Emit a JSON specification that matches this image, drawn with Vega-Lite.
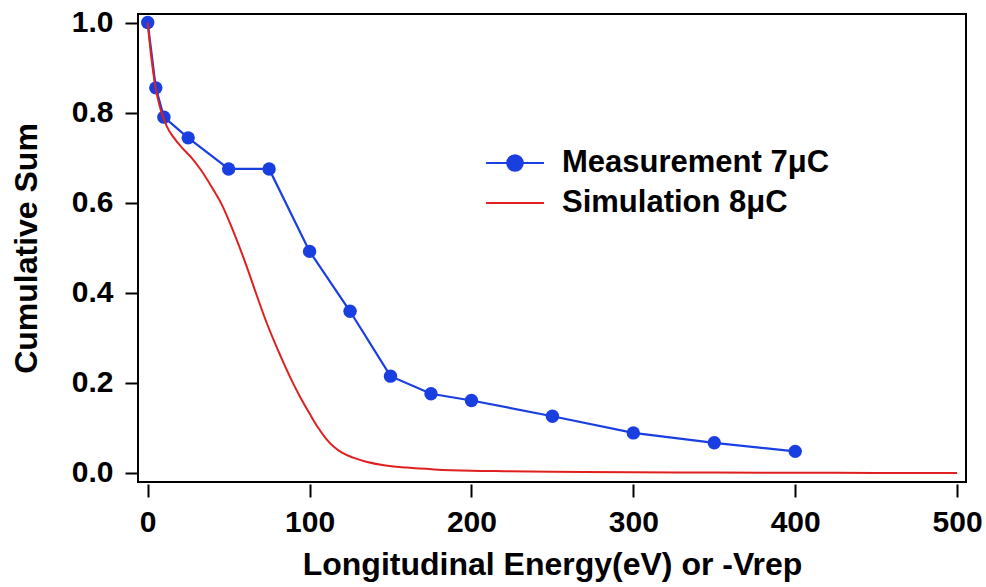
{
  "$schema": "https://vega.github.io/schema/vega-lite/v6.json",
  "width": 828,
  "height": 468,
  "autosize": {"type": "none"},
  "padding": {"left": 138, "top": 14, "right": 20, "bottom": 105},
  "background": "white",
  "config": {
    "font": "Liberation Sans",
    "view": {"stroke": "black", "strokeWidth": 2},
    "axis": {
      "domain": false,
      "grid": false,
      "labelFont": "Liberation Sans",
      "labelFontWeight": "bold",
      "labelFontSize": 30,
      "labelColor": "black",
      "titleFont": "Liberation Sans",
      "titleFontWeight": "bold",
      "titleFontSize": 32,
      "titleColor": "black",
      "tickColor": "black",
      "tickWidth": 2,
      "tickSize": 13
    }
  },
  "datasets": {
    "meas": [
      {"energy": 0, "sum": 1.0, "series": "Measurement 7μC"},
      {"energy": 5, "sum": 0.855, "series": "Measurement 7μC"},
      {"energy": 10, "sum": 0.79, "series": "Measurement 7μC"},
      {"energy": 25, "sum": 0.744, "series": "Measurement 7μC"},
      {"energy": 50, "sum": 0.675, "series": "Measurement 7μC"},
      {"energy": 75, "sum": 0.675, "series": "Measurement 7μC"},
      {"energy": 100, "sum": 0.492, "series": "Measurement 7μC"},
      {"energy": 125, "sum": 0.359, "series": "Measurement 7μC"},
      {"energy": 150, "sum": 0.215, "series": "Measurement 7μC"},
      {"energy": 175, "sum": 0.176, "series": "Measurement 7μC"},
      {"energy": 200, "sum": 0.161, "series": "Measurement 7μC"},
      {"energy": 250, "sum": 0.126, "series": "Measurement 7μC"},
      {"energy": 300, "sum": 0.089, "series": "Measurement 7μC"},
      {"energy": 350, "sum": 0.067, "series": "Measurement 7μC"},
      {"energy": 400, "sum": 0.048, "series": "Measurement 7μC"}
    ],
    "sim": [
      {"energy": 0, "sum": 1.0, "series": "Simulation 8μC"},
      {"energy": 2, "sum": 0.93, "series": "Simulation 8μC"},
      {"energy": 4, "sum": 0.875, "series": "Simulation 8μC"},
      {"energy": 6, "sum": 0.835, "series": "Simulation 8μC"},
      {"energy": 9, "sum": 0.795, "series": "Simulation 8μC"},
      {"energy": 12, "sum": 0.768, "series": "Simulation 8μC"},
      {"energy": 16, "sum": 0.745, "series": "Simulation 8μC"},
      {"energy": 21, "sum": 0.723, "series": "Simulation 8μC"},
      {"energy": 27, "sum": 0.7, "series": "Simulation 8μC"},
      {"energy": 33, "sum": 0.672, "series": "Simulation 8μC"},
      {"energy": 40, "sum": 0.632, "series": "Simulation 8μC"},
      {"energy": 46, "sum": 0.594, "series": "Simulation 8μC"},
      {"energy": 51, "sum": 0.553, "series": "Simulation 8μC"},
      {"energy": 56, "sum": 0.508, "series": "Simulation 8μC"},
      {"energy": 61, "sum": 0.46, "series": "Simulation 8μC"},
      {"energy": 67, "sum": 0.398, "series": "Simulation 8μC"},
      {"energy": 73, "sum": 0.338, "series": "Simulation 8μC"},
      {"energy": 79, "sum": 0.285, "series": "Simulation 8μC"},
      {"energy": 84, "sum": 0.244, "series": "Simulation 8μC"},
      {"energy": 89, "sum": 0.205, "series": "Simulation 8μC"},
      {"energy": 94, "sum": 0.17, "series": "Simulation 8μC"},
      {"energy": 100, "sum": 0.132, "series": "Simulation 8μC"},
      {"energy": 105, "sum": 0.102, "series": "Simulation 8μC"},
      {"energy": 110, "sum": 0.077, "series": "Simulation 8μC"},
      {"energy": 115, "sum": 0.058, "series": "Simulation 8μC"},
      {"energy": 120, "sum": 0.045, "series": "Simulation 8μC"},
      {"energy": 127, "sum": 0.034, "series": "Simulation 8μC"},
      {"energy": 135, "sum": 0.025, "series": "Simulation 8μC"},
      {"energy": 146, "sum": 0.017, "series": "Simulation 8μC"},
      {"energy": 160, "sum": 0.012, "series": "Simulation 8μC"},
      {"energy": 177, "sum": 0.008, "series": "Simulation 8μC"},
      {"energy": 200, "sum": 0.005, "series": "Simulation 8μC"},
      {"energy": 220, "sum": 0.004, "series": "Simulation 8μC"},
      {"energy": 250, "sum": 0.003, "series": "Simulation 8μC"},
      {"energy": 300, "sum": 0.0015, "series": "Simulation 8μC"},
      {"energy": 350, "sum": 0.001, "series": "Simulation 8μC"},
      {"energy": 400, "sum": 0.0005, "series": "Simulation 8μC"},
      {"energy": 450, "sum": 0.0002, "series": "Simulation 8μC"},
      {"energy": 500, "sum": 0.0, "series": "Simulation 8μC"}
    ]
  },
  "encoding": {
    "x": {
      "field": "energy",
      "type": "quantitative",
      "scale": {"domain": [-6, 505.5], "nice": false, "zero": false},
      "axis": {
        "title": "Longitudinal Energy(eV) or -Vrep",
        "values": [0, 100, 200, 300, 400, 500],
        "offset": 2,
        "labelPadding": 10,
        "titlePadding": 12
      }
    },
    "y": {
      "field": "sum",
      "type": "quantitative",
      "scale": {"domain": [-0.02, 1.019], "nice": false, "zero": false},
      "axis": {
        "title": "Cumulative Sum",
        "values": [0, 0.2, 0.4, 0.6, 0.8, 1.0],
        "format": ".1f",
        "labelPadding": 12,
        "titlePadding": 28
      }
    },
    "color": {
      "field": "series",
      "type": "nominal",
      "scale": {
        "domain": ["Measurement 7μC", "Simulation 8μC"],
        "range": ["#1a3fe0", "#e0201f"]
      },
      "legend": {
        "title": null,
        "orient": "none",
        "legendX": 361,
        "legendY": 133,
        "padding": 0,
        "symbolSize": 900,
        "rowPadding": 9,
        "labelOffset": 31,
        "labelFont": "Liberation Sans",
        "labelFontWeight": "bold",
        "labelFontSize": 31,
        "labelColor": "black",
        "labelLimit": 400,
        "encode": {
          "symbols": {
            "update": {
              "shape": {"signal": "datum.value === 'Measurement 7μC' ? 'M-1.93,0H1.93M0.52,0A0.52,0.52 0 1,1 -0.52,0A0.52,0.52 0 1,1 0.52,0Z' : 'M-1.93,0H1.93'"},
              "fill": {"signal": "datum.value === 'Measurement 7μC' ? '#1140f0' : 'transparent'"},
              "stroke": {"signal": "datum.value === 'Measurement 7μC' ? '#1a3fe0' : '#e0201f'"},
              "strokeWidth": {"value": 2},
              "opacity": {"value": 1},
              "fillOpacity": {"value": 1},
              "strokeOpacity": {"value": 1}
            }
          }
        }
      }
    }
  },
  "layer": [
    {
      "data": {"name": "meas"},
      "mark": {"type": "line", "strokeWidth": 2.2, "color": "#1a3fe0"},
      "encoding": {}
    },
    {
      "data": {"name": "meas"},
      "mark": {"type": "point", "filled": true, "size": 180, "opacity": 1, "color": "#1140f0"},
      "encoding": {}
    },
    {
      "data": {"name": "sim"},
      "mark": {"type": "line", "strokeWidth": 2, "interpolate": "monotone"},
      "encoding": {}
    }
  ]
}
